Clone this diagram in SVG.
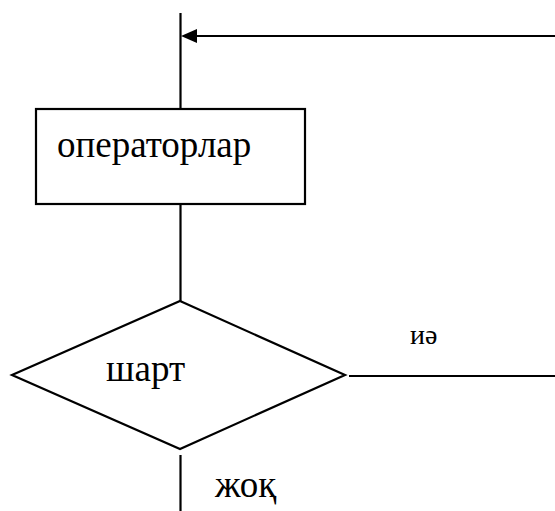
<svg xmlns="http://www.w3.org/2000/svg" width="555" height="511" viewBox="0 0 555 511">
<style>
.ln{stroke:#000;stroke-width:2.2;fill:none}
.shape{stroke:#000;stroke-width:2.2;fill:#fff}
.t{font-family:"Liberation Serif","Times New Roman",serif;fill:#000}
</style>
<defs>
<marker id="ah" markerWidth="16" markerHeight="14" refX="0" refY="7" orient="auto" markerUnits="userSpaceOnUse">
<path d="M16,7 L0,0 L0,14 Z" fill="#000"/>
</marker>
</defs>
<rect width="555" height="511" fill="#fff"/>
<g id="connectors">
<line class="ln" x1="180.5" y1="13" x2="180.5" y2="109"/>
<line class="ln" x1="555" y1="36" x2="197" y2="36" marker-end="url(#ah)"/>
<line class="ln" x1="180.5" y1="204" x2="180.5" y2="301"/>
<line class="ln" x1="349" y1="376" x2="555" y2="376"/>
<text class="t" x="410" y="344" font-size="28">иә</text>
<line class="ln" x1="180.5" y1="455" x2="180.5" y2="511"/>
<text class="t" x="215" y="497" font-size="37">жоқ</text>
</g>
<g id="operators">
<rect class="shape" x="36" y="109" width="269" height="95"/>
<text class="t" x="57" y="157" font-size="37">операторлар</text>
</g>
<g id="condition">
<polygon class="shape" points="180,301 345,375 180,449 12,375"/>
<text class="t" x="106" y="381" font-size="37">шарт</text>
</g>
</svg>
